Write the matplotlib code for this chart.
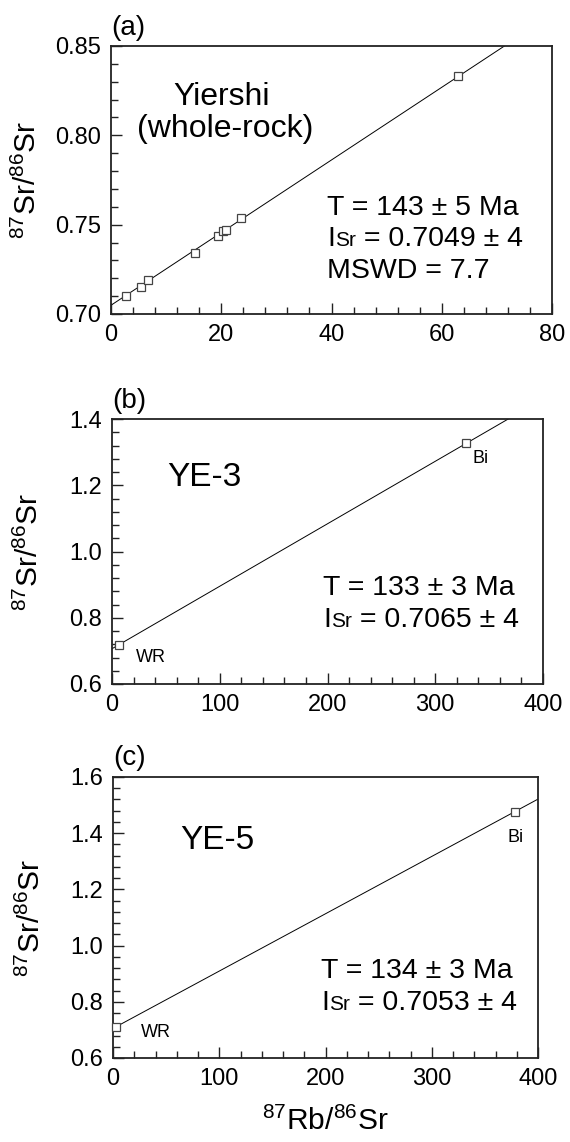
import matplotlib
matplotlib.use("Agg")
import matplotlib.pyplot as plt
from matplotlib.ticker import MultipleLocator
from matplotlib.offsetbox import TextArea, HPacker, VPacker, AnchoredOffsetbox
import numpy as np

plt.rcParams['font.family'] = ['Liberation Sans', 'DejaVu Sans']
plt.rcParams['mathtext.fontset'] = 'custom'
plt.rcParams['mathtext.rm'] = 'Liberation Sans'
plt.rcParams['mathtext.it'] = 'Liberation Sans'

# ---- data ----
a_rb = [2.7, 5.4, 6.8, 15.3, 19.5, 20.3, 20.8, 23.6, 62.9]
a_sr = [0.7098, 0.7150, 0.7189, 0.7344, 0.7436, 0.7462, 0.7471, 0.7540, 0.8331]
a_fit = (0.7049, 0.002033)

b_rb = [6.7, 329.0]
b_sr = [0.718, 1.327]
b_lbl = ["WR", "Bi"]
b_fit = (0.7065, 0.001886)

c_rb = [2.4, 378.0]
c_sr = [0.710, 1.477]
c_lbl = ["WR", "Bi"]
c_fit = (0.7053, 0.00204)

panel_letters = ["(a)", "(b)", "(c)"]
a_title = ["Yiershi", "(whole-rock)"]
a_info = ["T = 143 \u00b1 5 Ma", "0.7049 \u00b1 4", "MSWD = 7.7"]
b_title = "YE-3"
b_info = ["T = 133 \u00b1 3 Ma", "0.7065 \u00b1 4"]
c_title = "YE-5"
c_info = ["T = 134 \u00b1 3 Ma", "0.7053 \u00b1 4"]

ylab = r"$^{87}$Sr/$^{86}$Sr"
xlab = r"$^{87}$Rb/$^{86}$Sr"

fig = plt.figure(figsize=(5.7, 11.42), dpi=100)
W, H = 570, 1142
def add_ax(l, t, r, b):
    return fig.add_axes([l / W, 1 - b / H, (r - l) / W, (b - t) / H])

axa = add_ax(111, 46, 552, 314)
axb = add_ax(112, 419, 543, 684)
axc = add_ax(113, 777, 538, 1058)

FS_TICK = 17
FS_INFO = 20.5
FS_SUB = 15
FS_LAB = 21.5
FS_TITLE = 24
FS_SMALL = 13
FS_LETTER = 20

def style(ax, xlim, ylim, xmaj, xmin, ymaj, ymin, yfmt):
    ax.set_xlim(*xlim)
    ax.set_ylim(*ylim)
    ax.xaxis.set_major_locator(MultipleLocator(xmaj))
    ax.xaxis.set_minor_locator(MultipleLocator(xmin))
    ax.yaxis.set_major_locator(MultipleLocator(ymaj))
    ax.yaxis.set_minor_locator(MultipleLocator(ymin))
    ax.yaxis.set_major_formatter(plt.FormatStrFormatter(yfmt))
    ax.tick_params(which='both', direction='in', top=False, right=False,
                   labelsize=FS_TICK, width=1.0, color='#222222')
    ax.tick_params(which='major', length=8, pad=7)
    ax.tick_params(which='minor', length=5)
    for s in ax.spines.values():
        s.set_linewidth(1.3)
        s.set_color('#222222')
    ax.set_ylabel(ylab, fontsize=FS_LAB)
    ax.yaxis.set_label_coords(-0.157, 0.5)

def fitline(ax, fit, xmax):
    xs = np.array([0.0, xmax])
    ax.plot(xs, fit[0] + fit[1] * xs, color='black', lw=0.7, zorder=2)

def points(ax, x, y):
    ax.plot(x, y, 's', ms=5.2, mfc='white', mec='#444444', mew=0.9, zorder=3,
            clip_on=False)

def info_box(ax, lines, isr_index, anchor):
    rows = []
    for i, ln in enumerate(lines):
        if i == isr_index:
            row = HPacker(children=[
                TextArea("I", textprops=dict(size=FS_INFO)),
                TextArea("Sr", textprops=dict(size=FS_SUB)),
                TextArea(" = " + ln, textprops=dict(size=FS_INFO)),
            ], align="baseline", pad=0, sep=0)
        else:
            row = TextArea(ln, textprops=dict(size=FS_INFO))
        rows.append(row)
    box = VPacker(children=rows, align="left", pad=0, sep=4)
    ab = AnchoredOffsetbox(loc='upper left', child=box, pad=0, borderpad=0,
                           frameon=False, bbox_to_anchor=anchor,
                           bbox_transform=ax.transAxes)
    ax.add_artist(ab)

# ---- panel a ----
style(axa, (0, 80), (0.70, 0.85), 20, 4, 0.05, 0.01, '%.2f')
fitline(axa, a_fit, 80)
points(axa, a_rb, a_sr)
axa.text(0.25, 0.81, a_title[0], transform=axa.transAxes, ha='center', va='center', fontsize=FS_TITLE - 1)
axa.text(0.26, 0.69, a_title[1], transform=axa.transAxes, ha='center', va='center', fontsize=FS_TITLE - 1)
info_box(axa, a_info, 1, (0.49, 0.445))
axa.text(0.0, 1.02, panel_letters[0], transform=axa.transAxes, ha='left', va='bottom', fontsize=FS_LETTER)

# ---- panel b ----
style(axb, (0, 400), (0.6, 1.4), 100, 20, 0.2, 0.04, '%.1f')
fitline(axb, b_fit, 400)
points(axb, b_rb, b_sr)
axb.text(0.215, 0.78, b_title, transform=axb.transAxes, ha='center', va='center', fontsize=FS_TITLE)
axb.text(0.09, 0.10, b_lbl[0], transform=axb.transAxes, ha='center', va='center', fontsize=FS_SMALL)
axb.text(0.855, 0.85, b_lbl[1], transform=axb.transAxes, ha='center', va='center', fontsize=FS_SMALL)
info_box(axb, b_info, 1, (0.49, 0.41))
axb.text(0.0, 1.02, panel_letters[1], transform=axb.transAxes, ha='left', va='bottom', fontsize=FS_LETTER)

# ---- panel c ----
style(axc, (0, 400), (0.6, 1.6), 100, 20, 0.2, 0.04, '%.1f')
fitline(axc, c_fit, 400)
points(axc, c_rb, c_sr)
axc.text(0.245, 0.775, c_title, transform=axc.transAxes, ha='center', va='center', fontsize=FS_TITLE)
axc.text(0.10, 0.09, c_lbl[0], transform=axc.transAxes, ha='center', va='center', fontsize=FS_SMALL)
axc.text(0.947, 0.785, c_lbl[1], transform=axc.transAxes, ha='center', va='center', fontsize=FS_SMALL)
info_box(axc, c_info, 1, (0.49, 0.355))
axc.text(0.0, 1.02, panel_letters[2], transform=axc.transAxes, ha='left', va='bottom', fontsize=FS_LETTER)
axc.set_xlabel(xlab, fontsize=FS_LAB, labelpad=12)

fig.savefig("out.png", dpi=100)
